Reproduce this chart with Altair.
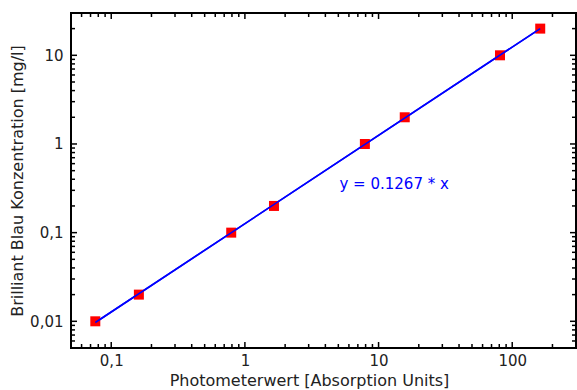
import altair as alt
import pandas as pd

# data
photometer = [0.076, 0.161, 0.79, 1.65, 7.9, 15.7, 81, 162]
konzentration = [0.01, 0.02, 0.1, 0.2, 1, 2, 10, 20]
fit_x = [0.076, 162]
fit_y = [0.0097, 20]
fit_label = "y = 0.1267 * x"
label_pos_x = [5.1]
label_pos_y = [0.35]

x_major = [0.1, 1, 10, 100]
x_minor = [0.05, 0.06, 0.07, 0.08, 0.09, 0.2, 0.3, 0.4, 0.5, 0.6, 0.7, 0.8, 0.9,
           2, 3, 4, 5, 6, 7, 8, 9, 20, 30, 40, 50, 60, 70, 80, 90, 200, 300]
y_major = [0.01, 0.1, 1, 10]
y_minor = [0.005, 0.006, 0.007, 0.008, 0.009, 0.02, 0.03, 0.04, 0.05, 0.06, 0.07,
           0.08, 0.09, 0.2, 0.3, 0.4, 0.5, 0.6, 0.7, 0.8, 0.9, 2, 3, 4, 5, 6, 7,
           8, 9, 20, 30]

W, H = 505, 335
MAJ, MIN = 6, 4
FONT = "DejaVu Sans"
TXT = "#222222"

xs = alt.Scale(type="log", domain=[0.05, 300], nice=False)
ys = alt.Scale(type="log", domain=[0.005, 30], nice=False)

lab = "replace(toString(datum.value), '.', ',')"

pts = pd.DataFrame({"x": photometer, "y": konzentration})
fit = pd.DataFrame({"x": fit_x, "y": fit_y})

base_x = alt.X("x:Q", scale=xs, axis=alt.Axis(
    values=x_major, labelExpr=lab, ticks=False, domain=False, grid=False,
    title="Photometerwert [Absorption Units]", labelFont=FONT,
    labelFontSize=15, labelColor=TXT, labelPadding=5, titleFont=FONT,
    titleFontSize=16, titleFontWeight="normal", titleColor=TXT, titlePadding=4,
    titleX=238))
base_y = alt.Y("y:Q", scale=ys, axis=alt.Axis(
    values=y_major, labelExpr=lab, ticks=False, domain=False, grid=False,
    title="Brilliant Blau Konzentration [mg/l]", labelFont=FONT,
    labelFontSize=15, labelColor=TXT, labelPadding=8, titleFont=FONT,
    titleFontSize=16, titleFontWeight="normal", titleColor=TXT, titlePadding=4))

line = alt.Chart(fit).mark_line(color="#0000ff", strokeWidth=1.6).encode(x=base_x, y=base_y)
squares = alt.Chart(pts).mark_square(color="#ff0000", opacity=1, size=100).encode(
    x=alt.X("x:Q", scale=xs), y=alt.Y("y:Q", scale=ys))
line2 = alt.Chart(fit).mark_line(color="#0000ff", strokeWidth=1.6).encode(
    x=alt.X("x:Q", scale=xs), y=alt.Y("y:Q", scale=ys))
txt = alt.Chart(pd.DataFrame({"x": label_pos_x, "y": label_pos_y, "t": [fit_label]})).mark_text(
    align="left", baseline="middle", color="#0000ff", font=FONT, fontSize=15
).encode(x=alt.X("x:Q", scale=xs), y=alt.Y("y:Q", scale=ys), text="t:N")


def xticks(vals, length):
    d = pd.DataFrame({"x": vals})
    b = alt.Chart(d).mark_rule(color="black", strokeWidth=1.5)
    bottom = b.encode(x=alt.X("x:Q", scale=xs), y=alt.value(H), y2=alt.value(H - length))
    top = b.encode(x=alt.X("x:Q", scale=xs), y=alt.value(0), y2=alt.value(length))
    return [bottom, top]


def yticks(vals, length):
    d = pd.DataFrame({"y": vals})
    b = alt.Chart(d).mark_rule(color="black", strokeWidth=1.5)
    left = b.encode(y=alt.Y("y:Q", scale=ys), x=alt.value(0), x2=alt.value(length))
    right = b.encode(y=alt.Y("y:Q", scale=ys), x=alt.value(W), x2=alt.value(W - length))
    return [left, right]


layers = [line] + xticks(x_major, MAJ) + xticks(x_minor, MIN) + yticks(y_major, MAJ) + \
    yticks(y_minor, MIN) + [squares, line2, txt]

chart = alt.layer(*layers).properties(
    width=W, height=H,
    autosize=alt.AutoSizeParams(type="none"),
    padding={"left": 71, "top": 13, "right": 1, "bottom": 42},
    background="white",
).configure_view(stroke="black", strokeWidth=2)

chart.save("out.html", embed_options={"renderer": "svg", "actions": False})
